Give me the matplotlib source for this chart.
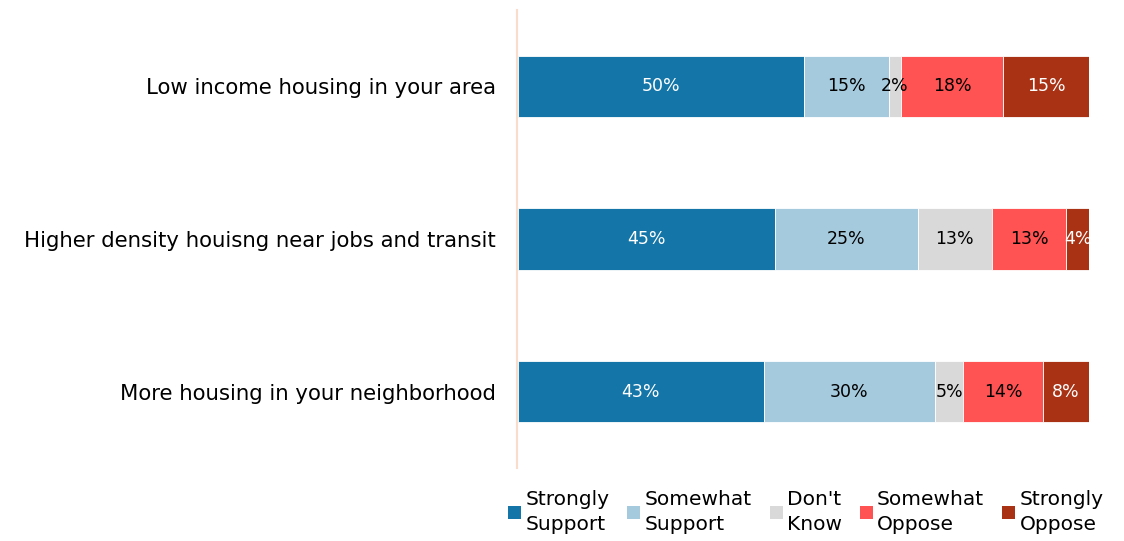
import matplotlib.pyplot as plt
from matplotlib.patches import Patch

# Data
categories = ['Low income housing in your area',
              'Higher density houisng near jobs and transit',
              'More housing in your neighborhood']
series_names = ['Strongly\nSupport', 'Somewhat\nSupport', "Don't\nKnow",
                'Somewhat\nOppose', 'Strongly\nOppose']
strongly_support = [50, 45, 43]
somewhat_support = [15, 25, 30]
dont_know = [2, 13, 5]
somewhat_oppose = [18, 13, 14]
strongly_oppose = [15, 4, 8]

values = [strongly_support, somewhat_support, dont_know, somewhat_oppose, strongly_oppose]
colors = ['#1375A8', '#A5CADD', '#D9D9D9', '#FF5252', '#A83213']
text_colors = ['white', 'black', 'black', 'black', 'white']

fig = plt.figure(figsize=(11.24, 5.41), dpi=100)
ax = fig.add_axes([518 / 1124, 1 - 468 / 541, 571 / 1124, 458 / 541])

y = list(range(len(categories)))
left = [0] * len(categories)
for vals, col, tcol in zip(values, colors, text_colors):
    ax.barh(y, vals, left=left, height=0.4, color=col, edgecolor='white', linewidth=0.6)
    for i, v in enumerate(vals):
        ax.text(left[i] + v / 2, y[i], f'{v}%', ha='center', va='center',
                color=tcol, fontsize=12.5)
    left = [l + v for l, v in zip(left, vals)]

ax.set_xlim(0, 100)
ax.set_ylim(2.5, -0.5)
ax.set_yticks(y)
ax.set_yticklabels(categories)
ax.tick_params(axis='y', length=0, pad=15, labelsize=15.3)
ax.set_xticks([])
for side in ['top', 'right', 'bottom']:
    ax.spines[side].set_visible(False)
ax.spines['left'].set_color('#F8DDCB')
ax.spines['left'].set_linewidth(1.5)
ax.spines['left'].set_position(('outward', 1))

handles = [Patch(facecolor=c) for c in colors]
leg = fig.legend(handles, series_names, loc='lower left', bbox_to_anchor=(490 / 1124, -0.02),
                 ncol=5, frameon=False, fontsize=14.5, handlelength=0.65, handleheight=0.65,
                 handletextpad=0.2, columnspacing=0.9, labelspacing=0.1)
for t in leg.get_texts():
    t.set_linespacing(1.35)

fig.savefig('out.png', dpi=100)
